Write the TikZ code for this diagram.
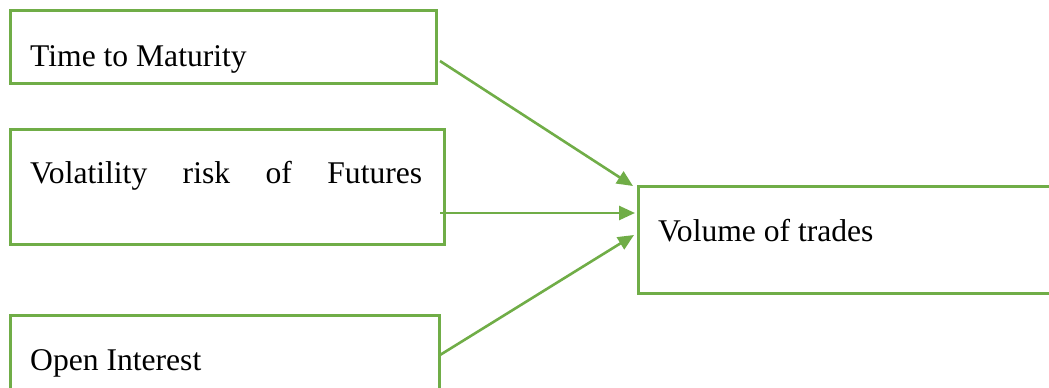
\documentclass[tikz,border=0pt]{standalone}
\usepackage{fontspec}
\setmainfont{Liberation Serif}
\usetikzlibrary{arrows.meta}
\definecolor{boxgreen}{RGB}{112,173,71}
\begin{document}
\begin{tikzpicture}[x=1pt,y=-1pt,
  box/.style={draw=boxgreen, line width=2.6pt, rectangle, inner sep=0pt, anchor=north west},
  lbl/.style={anchor=base west, inner sep=0pt, font=\fontsize{31.6}{38}\selectfont},
  arr/.style={draw=boxgreen, line width=2.6pt, -{Triangle[length=16pt,width=14pt]}}]
\useasboundingbox (0,0) rectangle (1049,388);
\clip (0,0) rectangle (1049,388);
\node[box, minimum width=426pt, minimum height=73pt] (b1) at (9,9) {};
\node[box, minimum width=434pt, minimum height=115pt] (b2) at (9,128) {};
\node[box, minimum width=429pt, minimum height=100pt] (b3) at (9,314) {};
\node[box, minimum width=430pt, minimum height=107pt] (b4) at (637,185) {};
\node[lbl] (t1) at (30,66) {Time to Maturity};
\node[lbl] (t2) at (30,183) {\makebox[392pt][s]{Volatility risk of Futures}};
\node[lbl] (t3) at (30,370) {Open Interest};
\node[lbl] (t4) at (658,241) {Volume of trades};
\coordinate (s1) at (440,61);
\coordinate (e1) at (633,186);
\coordinate (s2) at (440,213);
\coordinate (e2) at (635,213);
\coordinate (s3) at (440,355);
\coordinate (e3) at (634,235);
\draw[arr] (s1) -- (e1);
\draw[arr] (s2) -- (e2);
\draw[arr] (s3) -- (e3);
\end{tikzpicture}
\end{document}
